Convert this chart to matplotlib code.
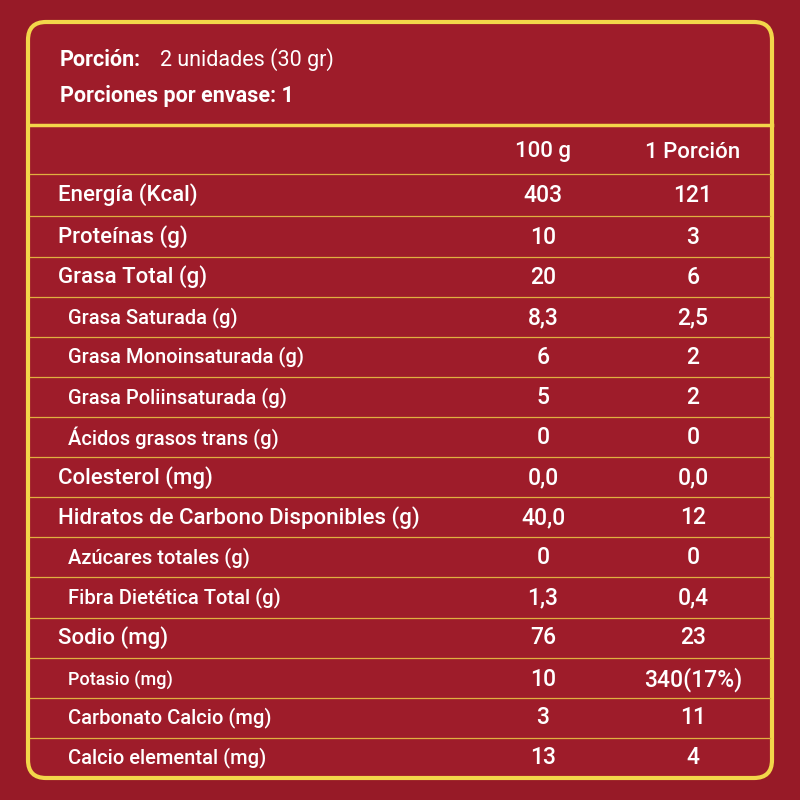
import matplotlib
matplotlib.use("Agg")
import matplotlib.pyplot as plt
from matplotlib.patches import FancyBboxPatch

labels = ["Energía (Kcal)", "Proteínas (g)", "Grasa Total (g)", "Grasa Saturada (g)",
          "Grasa Monoinsaturada (g)", "Grasa Poliinsaturada (g)", "Ácidos grasos trans (g)",
          "Colesterol (mg)", "Hidratos de Carbono Disponibles (g)", "Azúcares totales (g)",
          "Fibra Dietética Total (g)", "Sodio (mg)", "Potasio (mg)", "Carbonato Calcio (mg)",
          "Calcio elemental (mg)"]
indent = [0, 0, 0, 1, 1, 1, 1, 0, 0, 1, 1, 0, 1, 1, 1]
per100 = ["403", "10", "20", "8,3", "6", "5", "0", "0,0", "40,0", "0", "1,3", "76", "10", "3", "13"]
perPortion = ["121", "3", "6", "2,5", "2", "2", "0", "0,0", "12", "0", "0,4", "23", "340(17%)", "11", "4"]
col_headers = ["100 g", "1 Porción"]

plt.rcParams['font.family'] = ['Roboto', 'DejaVu Sans']
fig = plt.figure(figsize=(8, 8), dpi=100)
fig.patch.set_facecolor("#971a27")
ax = fig.add_axes([0, 0, 1, 1])
ax.set_xlim(0, 800); ax.set_ylim(800, 0); ax.axis("off")

yel = "#f3d64a"
ax.add_patch(FancyBboxPatch((28, 22), 744, 756, boxstyle="round,pad=0,rounding_size=18",
                            fc="#9e1c2a", ec=yel, lw=3))
ax.plot([28, 772], [125, 125], color=yel, lw=2.5)

ax.text(60, 60, "Porción:", color="white", fontsize=15.5, weight="bold", va="center")
ax.text(160, 60, "2 unidades (30 gr)", color="white", fontsize=15.5, va="center")
ax.text(60, 96, "Porciones por envase: 1", color="white", fontsize=15.5, weight="bold", va="center")

c1, c2 = 543, 693
kw = dict(color="white", ha="center", va="center", weight="medium")
ax.text(c1, 152, col_headers[0], fontsize=16, **kw)
ax.text(c2, 152, col_headers[1], fontsize=16, **kw)

ys = [195, 237, 277, 318, 357, 398, 438, 478, 518, 558, 598, 638, 680, 718, 758]
seps = [174, 216, 257, 297, 337, 377, 417, 457, 497, 537, 577, 618, 658, 698, 738]
for s in seps:
    ax.plot([30, 770], [s, s], color="#e0b040", lw=0.9)
for i, (lab, a, b) in enumerate(zip(labels, per100, perPortion)):
    y = ys[i]
    x = 68 if indent[i] else 58
    fs = 14.5 if indent[i] else 16
    if i == 12: fs = 13
    ax.text(x, y, lab, color="white", fontsize=fs, va="center", weight="medium")
    ax.text(c1, y, a, fontsize=16.5, **kw)
    ax.text(c2, y, b, fontsize=16.5, **kw)

fig.savefig("out.png", dpi=100, facecolor=fig.get_facecolor())
